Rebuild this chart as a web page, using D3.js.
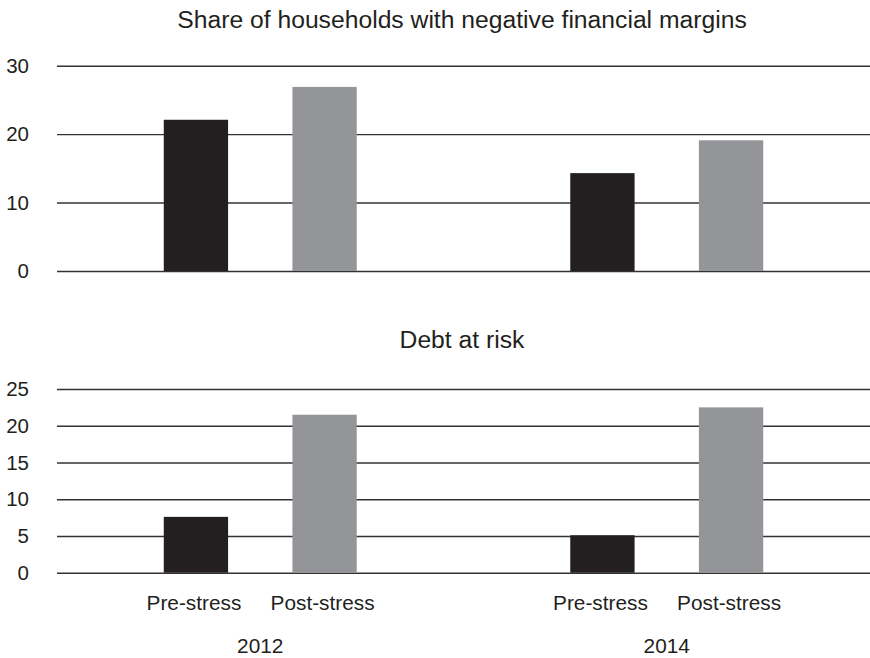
<!DOCTYPE html>
<html>
<head>
<meta charset="utf-8">
<script src="https://cdn.jsdelivr.net/npm/d3@7"></script>
<style>
  body { margin: 0; background: #fff; }
  svg { display: block; font-family: "Liberation Sans", Arial, sans-serif; }
</style>
</head>
<body>
<svg></svg>
<script>
const width = 870, height = 658;
const svg = d3.select("svg").attr("width", width).attr("height", height);

// Data
const years = ["2012", "2014"];
const stages = ["Pre-stress", "Post-stress"];
const negMargins = [[22.1, 26.9], [14.3, 19.1]];   // share of households, per year: pre, post
const debtAtRisk = [[7.6, 21.5], [5.1, 22.5]];
const topTicks = [0, 10, 20, 30];
const bottomTicks = [0, 5, 10, 15, 20, 25];

const colors = { "Pre-stress": "#231f20", "Post-stress": "#939598" };
const left = 57, right = 870;

// x scales shared by both panels
const x0 = d3.scaleBand().domain(years).range([left, right]);
const x1 = d3.scaleBand().domain(stages).range([0, x0.bandwidth()])
    .paddingInner(0.5).paddingOuter(0.83);

function panel(title, titleY, values, ticks, yTop, yBottom) {
    const y = d3.scaleLinear().domain([0, d3.max(ticks)]).range([yBottom, yTop]);
    const g = svg.append("g");

    g.append("text")
        .attr("x", 462).attr("y", titleY)
        .attr("text-anchor", "middle")
        .attr("font-size", 24.7)
        .attr("fill", "#231f20")
        .text(title);

    // gridlines + tick labels
    const axis = d3.axisLeft(y).tickValues(ticks).tickSize(-(right - left)).tickPadding(28);
    const ag = g.append("g").attr("transform", `translate(${left},0)`).call(axis);
    ag.select(".domain").remove();
    ag.selectAll(".tick line").attr("stroke", "#333").attr("stroke-width", 1.4);
    ag.selectAll(".tick text")
        .attr("font-size", 20.5)
        .attr("fill", "#231f20")
        .attr("font-family", "Liberation Sans, Arial, sans-serif");

    // bars
    years.forEach((yr, i) => {
        g.selectAll(null)
            .data(stages.map((s, j) => ({ stage: s, value: values[i][j] })))
            .enter().append("rect")
            .attr("x", d => x0(yr) + x1(d.stage))
            .attr("width", x1.bandwidth())
            .attr("y", d => y(d.value))
            .attr("height", d => y(0) - y(d.value))
            .attr("fill", d => colors[d.stage]);
    });
    return y;
}

panel("Share of households with negative financial margins", 28, negMargins, topTicks, 65.7, 271);
panel("Debt at risk", 348, debtAtRisk, bottomTicks, 389, 572.7);

// category labels
years.forEach(yr => {
    stages.forEach(s => {
        svg.append("text")
            .attr("x", x0(yr) + x1(s) + x1.bandwidth() / 2 - 2)
            .attr("y", 610)
            .attr("text-anchor", "middle")
            .attr("font-size", 20.8)
            .attr("fill", "#231f20")
            .text(s);
    });
    svg.append("text")
        .attr("x", x0(yr) + x0.bandwidth() / 2)
        .attr("y", 653)
        .attr("text-anchor", "middle")
        .attr("font-size", 20.8)
        .attr("fill", "#231f20")
        .text(yr);
});
</script>
</body>
</html>
